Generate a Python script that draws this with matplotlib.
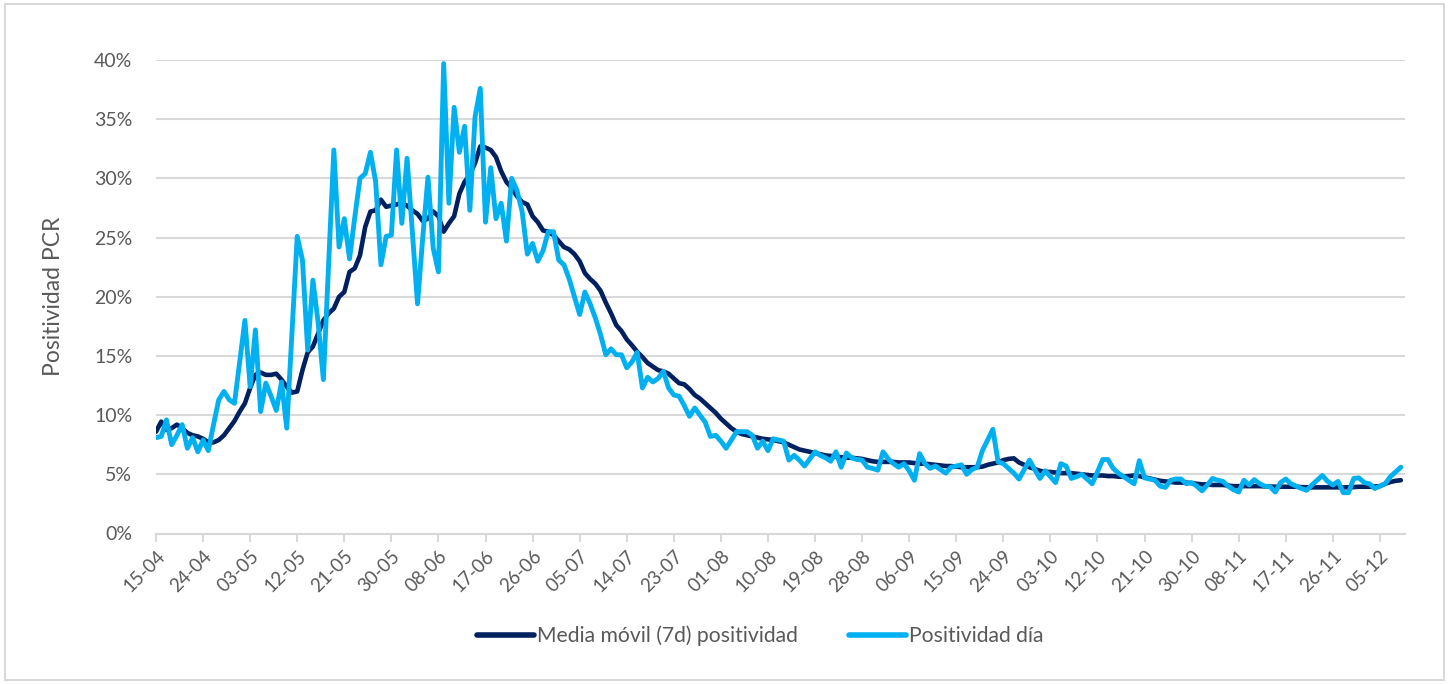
import numpy as np
import pandas as pd
import matplotlib
matplotlib.use("Agg")
import matplotlib.pyplot as plt
from matplotlib.patches import Rectangle

plt.rcParams["font.family"] = ["Lato", "DejaVu Sans"]

# daily dates, 15-04 .. 09-12
dates = pd.date_range("2020-04-15", periods=239, freq="D")

# 7-day moving average of PCR positivity (%)
media_movil = [
    8.6, 9.45, 8.75, 8.9, 9.2, 8.9, 8.5, 8.3, 8.2, 8.0,
    7.7, 7.7, 7.9, 8.3, 8.9, 9.5, 10.3, 11.0, 12.3, 13.4,
    13.6, 13.4, 13.4, 13.5, 13.0, 12.4, 11.9, 12.0, 13.8, 15.3,
    15.8, 16.9, 18.0, 18.6, 19.0, 20.0, 20.4, 22.1, 22.4, 23.5,
    25.9, 27.2, 27.3, 28.2, 27.6, 27.7, 27.8, 27.9, 27.7, 27.3,
    27.0, 26.4, 26.6, 27.2, 26.8, 25.5, 26.2, 26.8, 28.7, 29.7,
    30.3, 31.3, 32.7, 32.6, 32.4, 31.8, 30.6, 29.7, 29.2, 28.5,
    28.0, 27.8, 26.8, 26.3, 25.6, 25.5, 25.2, 24.7, 24.2, 24.0,
    23.6, 23.0, 22.0, 21.5, 21.1, 20.5, 19.5, 18.6, 17.6, 17.1,
    16.4, 15.9, 15.35, 14.9, 14.4, 14.1, 13.8, 13.7, 13.5, 13.1,
    12.7, 12.6, 12.2, 11.7, 11.4, 11.0, 10.6, 10.2, 9.7, 9.3,
    8.9, 8.6, 8.4, 8.3, 8.2, 8.1, 8.0, 7.95, 7.9, 7.8,
    7.7, 7.5, 7.3, 7.1, 7.0, 6.9, 6.8, 6.7, 6.6, 6.55,
    6.5, 6.45, 6.4, 6.4, 6.35, 6.3, 6.2, 6.1, 6.05, 6.05,
    6.05, 6.05, 6.0, 6.0, 6.0, 5.95, 5.9, 5.9, 5.85, 5.8,
    5.75, 5.7, 5.7, 5.65, 5.6, 5.6, 5.6, 5.6, 5.65, 5.8,
    5.9, 6.0, 6.2, 6.3, 6.35, 6.0, 5.8, 5.6, 5.45, 5.3,
    5.2, 5.2, 5.15, 5.1, 5.1, 5.1, 5.05, 5.0, 4.95, 4.9,
    4.9, 4.9, 4.85, 4.85, 4.8, 4.8, 4.85, 4.9, 4.85, 4.75,
    4.65, 4.55, 4.45, 4.4, 4.35, 4.3, 4.3, 4.3, 4.25, 4.2,
    4.15, 4.15, 4.1, 4.1, 4.1, 4.05, 4.0, 4.0, 4.0, 4.0,
    4.0, 4.0, 3.98, 3.97, 3.95, 3.95, 3.95, 3.95, 3.95, 3.92,
    3.9, 3.9, 3.9, 3.9, 3.9, 3.9, 3.9, 3.9, 3.9, 3.92,
    3.95, 3.95, 3.95, 3.97, 4.0, 4.2, 4.35, 4.45, 4.5,
]

# daily PCR positivity (%)
positividad_dia = [
    8.1, 8.2, 9.6, 7.5, 8.3, 9.2, 7.2, 8.1, 6.9, 7.9,
    7.0, 9.2, 11.3, 12.0, 11.3, 11.0, 14.5, 18.0, 12.4, 17.2,
    10.3, 12.7, 11.6, 10.4, 12.8, 8.9, 17.0, 25.1, 23.1, 15.5,
    21.4, 17.8, 13.0, 22.7, 32.4, 24.2, 26.6, 23.2, 26.7, 30.0,
    30.4, 32.2, 29.7, 22.7, 25.1, 25.2, 32.4, 26.2, 31.7, 25.5,
    19.4, 25.0, 30.1, 24.1, 22.1, 39.7, 27.9, 36.0, 32.2, 34.4,
    27.3, 35.2, 37.6, 26.3, 30.9, 26.6, 27.9, 24.7, 30.0, 29.0,
    27.2, 23.6, 24.5, 23.0, 23.9, 25.5, 25.5, 23.1, 22.7, 21.5,
    20.0, 18.5, 20.4, 19.4, 18.2, 16.8, 15.1, 15.6, 15.1, 15.1,
    14.0, 14.5, 15.3, 12.3, 13.2, 12.8, 13.1, 13.7, 12.3, 11.7,
    11.6, 10.8, 9.9, 10.6, 10.0, 9.4, 8.2, 8.3, 7.8, 7.2,
    7.9, 8.6, 8.6, 8.6, 8.3, 7.2, 7.8, 7.0, 8.0, 7.9,
    7.8, 6.2, 6.6, 6.2, 5.7, 6.3, 6.9, 6.6, 6.4, 6.1,
    6.9, 5.6, 6.8, 6.4, 6.25, 6.2, 5.6, 5.5, 5.35, 6.9,
    6.3, 5.9, 5.6, 5.9, 5.3, 4.5, 6.75, 5.9, 5.5, 5.7,
    5.4, 5.1, 5.6, 5.7, 5.8, 5.0, 5.4, 5.6, 7.0, 7.9,
    8.8, 6.05, 5.9, 5.5, 5.1, 4.6, 5.4, 6.2, 5.4, 4.65,
    5.3, 4.8, 4.3, 5.9, 5.7, 4.65, 4.8, 5.0, 4.6, 4.2,
    5.2, 6.25, 6.25, 5.5, 5.1, 4.8, 4.5, 4.2, 6.15, 4.7,
    4.6, 4.5, 4.0, 3.9, 4.5, 4.6, 4.6, 4.2, 4.3, 4.0,
    3.6, 4.1, 4.65, 4.5, 4.4, 4.0, 3.7, 3.5, 4.5, 4.1,
    4.55, 4.2, 4.0, 3.95, 3.5, 4.3, 4.6, 4.2, 4.0, 3.8,
    3.65, 4.1, 4.5, 4.9, 4.4, 4.1, 4.4, 3.45, 3.45, 4.65,
    4.7, 4.3, 4.2, 3.8, 4.0, 4.2, 4.8, 5.2, 5.6,
]

y_ticks = [0, 5, 10, 15, 20, 25, 30, 35, 40]
tick_step = 9  # one x label every 9 days

DARK = "#002060"
LIGHT = "#00B0F0"
GRID = "#D9D9D9"
TXT = "#595959"

fig = plt.figure(figsize=(14.49, 6.84), dpi=100)
ax = fig.add_axes([156 / 1449, 1 - 533.5 / 684, (1405 - 156) / 1449, (533.5 - 60) / 684])

x = np.arange(len(dates))
ax.plot(x, media_movil, color=DARK, lw=3.3, solid_capstyle="round",
        solid_joinstyle="round", label="Media móvil (7d) positividad", zorder=3)
ax.plot(x, positividad_dia, color=LIGHT, lw=3.5, solid_capstyle="round",
        solid_joinstyle="round", label="Positividad día", zorder=4)

ax.set_xlim(0, 238.8)
ax.set_ylim(0, 40)
ax.set_yticks(y_ticks)
ax.set_yticklabels(["%d%%" % v for v in y_ticks], color=TXT, fontsize=14)
ax.yaxis.grid(True, color=GRID, lw=1.5)
ax.set_axisbelow(True)
ax.tick_params(axis="y", length=0, pad=17)

xt = x[::tick_step]
ax.set_xticks(xt)
ax.set_xticklabels([dates[i].strftime("%d-%m") for i in xt], rotation=45,
                   ha="right", va="top", rotation_mode="anchor",
                   color=TXT, fontsize=13.5)
ax.tick_params(axis="x", length=6, width=1.5, color=GRID, pad=4)

for s in ("top", "right", "left"):
    ax.spines[s].set_visible(False)
ax.spines["bottom"].set_color(GRID)
ax.spines["bottom"].set_linewidth(1.5)

ax.set_ylabel("Positividad PCR", color=TXT, fontsize=16.5)
ax.yaxis.set_label_coords(-0.074, 0.5)

leg = fig.legend(loc="center", bbox_to_anchor=(760 / 1449, 1 - 636 / 684), ncol=2,
                 frameon=False, fontsize=15.2, handlelength=2.7, handletextpad=0.15,
                 columnspacing=2.4)
for t in leg.get_texts():
    t.set_color(TXT)
for h in leg.get_lines():
    h.set_linewidth(4)

fig.patches.append(Rectangle((5 / 1449, 4 / 684), 1439 / 1449, 676 / 684,
                             transform=fig.transFigure, fill=False,
                             edgecolor=GRID, lw=1.5))

fig.savefig("out.png", dpi=100)
